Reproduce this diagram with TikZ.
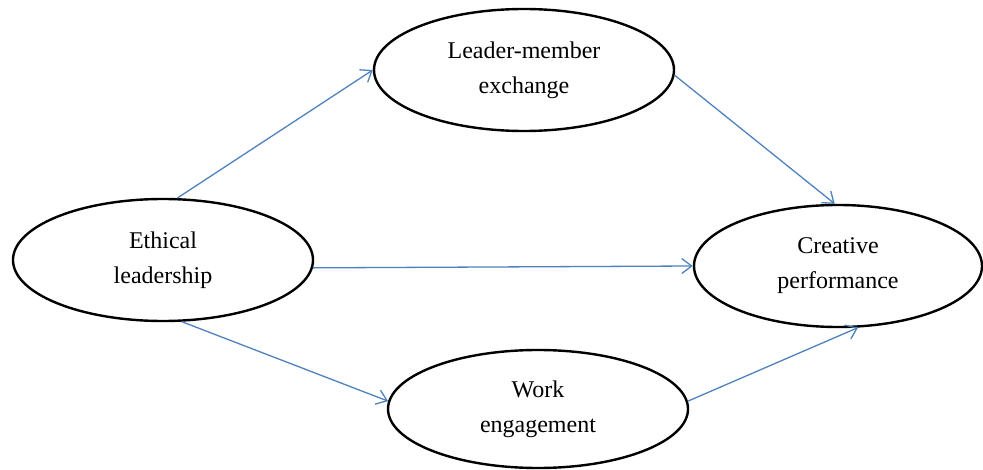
\documentclass[tikz,border=0pt]{standalone}
\usepackage{fontspec}
\setmainfont{Liberation Serif}
\usetikzlibrary{positioning, shapes.geometric, arrows.meta}
\definecolor{linkblue}{RGB}{79,129,189}

\begin{document}
\begin{tikzpicture}[x=1pt, y=-1pt,
        construct/.style={draw=black, ellipse, line width=2.4pt, minimum width=300pt, minimum height=122pt, inner sep=0pt, align=center, font=\fontsize{24}{35}\selectfont},
        link/.style={draw=linkblue, line width=1.3pt, -{Straight Barb[length=10pt, width=15pt, line width=1.3pt]}}]
        \useasboundingbox (0,0) rectangle (983,470);

        % Draw the constructs
                \node[construct] (eth) at (163,260) {Ethical\\leadership};
                \node[construct] (lmx) at (524,70) {Leader-member\\exchange};
                \node[construct, minimum width=288pt] (cre) at (838,266) {Creative\\performance};
                \node[construct, minimum height=118pt] (work) at (538,409) {Work\\engagement};

        % Draw paths through leader-member exchange
                \draw[link] (eth.77) -- (lmx.180);
                \draw[link] (lmx.-2) -- (cre.93);

        % Draw direct path
                \draw[link] (eth.-3) -- (cre.west);

        % Draw paths through work engagement
                \draw[link] (eth.-73) -- (work.177);
                \draw[link] (work.3) -- (cre.-72);
\end{tikzpicture}
\end{document}
